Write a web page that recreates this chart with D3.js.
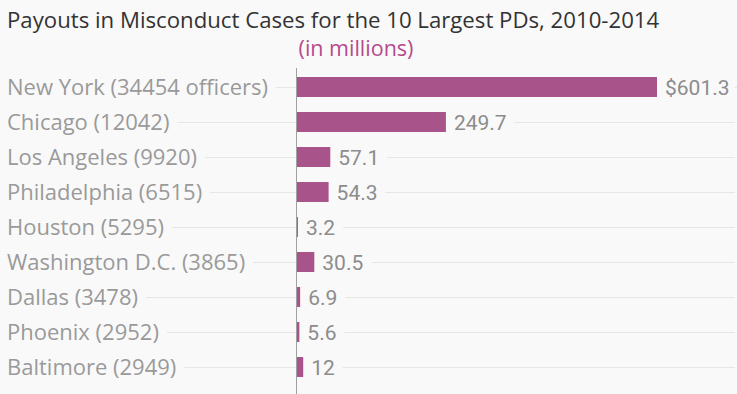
<!DOCTYPE html>
<html>
<head>
<meta charset="utf-8">
<script src="https://cdn.jsdelivr.net/npm/d3@7"></script>
<style>
  html, body { margin: 0; padding: 0; background: #f9f9f9; }
  svg { display: block; }
</style>
</head>
<body>
<svg id="chart" width="737" height="394"></svg>
<script>
const categories = [
  "New York (34454 officers)",
  "Chicago (12042)",
  "Los Angeles (9920)",
  "Philadelphia (6515)",
  "Houston (5295)",
  "Washington D.C. (3865)",
  "Dallas (3478)",
  "Phoenix (2952)",
  "Baltimore (2949)"
];
const payouts = [601.3, 249.7, 57.1, 54.3, 3.2, 30.5, 6.9, 5.6, 12];
const valueLabels = ["$601.3", "249.7", "57.1", "54.3", "3.2", "30.5", "6.9", "5.6", "12"];

const titleText = "Payouts in Misconduct Cases for the 10 Largest PDs, 2010-2014";
const subtitleText = "(in millions)";

const W = 737, H = 394;
const svg = d3.select("#chart");
svg.append("rect").attr("width", W).attr("height", H).attr("fill", "#f9f9f9");

const x0 = 296;
const x = d3.scaleLinear().domain([0, 601.3]).range([x0, 657]);
const y = d3.scaleBand().domain(categories).range([69.5, 384.5]).paddingInner(0.43).paddingOuter(0.215);

svg.append("text")
  .attr("x", 7).attr("y", 28)
  .attr("font-family", "Open Sans, sans-serif")
  .attr("font-size", 22.2)
  .attr("fill", "#333")
  .text(titleText);

svg.append("text")
  .attr("x", 356).attr("y", 56)
  .attr("text-anchor", "middle")
  .attr("font-family", "Open Sans, sans-serif")
  .attr("font-size", 21.5)
  .attr("fill", "#b5498c")
  .text(subtitleText);

const rows = svg.append("g");

// category labels
const labels = rows.selectAll("text.cat").data(categories).join("text")
  .attr("class", "cat")
  .attr("x", 7)
  .attr("y", d => y(d) + y.bandwidth() / 2)
  .attr("dy", "0.36em")
  .attr("font-family", "Open Sans, sans-serif")
  .attr("font-size", 22)
  .attr("fill", "#9a9a9a")
  .text(d => d);

// gridlines (after label ends)
const labelEnds = [];
labels.each(function () { labelEnds.push(7 + this.getComputedTextLength()); });

const grid = svg.insert("g", "g");
grid.selectAll("line.l").data(categories).join("line")
  .attr("x1", (d, i) => labelEnds[i] + 8)
  .attr("x2", x0)
  .attr("y1", d => Math.round(y(d) + y.bandwidth() / 2) + 0.5)
  .attr("y2", d => Math.round(y(d) + y.bandwidth() / 2) + 0.5)
  .attr("stroke", "#e6e6e6").attr("stroke-width", 1);

// bars
rows.selectAll("rect.bar").data(payouts).join("rect")
  .attr("class", "bar")
  .attr("x", x0)
  .attr("y", (d, i) => y(categories[i]))
  .attr("width", d => x(d) - x0)
  .attr("height", y.bandwidth())
  .attr("fill", "#a8538a");

// value labels
const vals = rows.selectAll("text.val").data(payouts).join("text")
  .attr("class", "val")
  .attr("x", d => x(d) + 8)
  .attr("y", (d, i) => y(categories[i]) + y.bandwidth() / 2)
  .attr("dy", "0.36em")
  .attr("font-family", "Roboto, sans-serif")
  .attr("font-size", 21)
  .attr("fill", "#8c8c8c")
  .text((d, i) => valueLabels[i]);

const valEnds = [];
vals.each(function (d) { valEnds.push(x(d) + 8 + this.getComputedTextLength()); });
grid.selectAll("line.r").data(categories).join("line")
  .attr("x1", (d, i) => valEnds[i] + 8)
  .attr("x2", 735)
  .attr("y1", d => Math.round(y(d) + y.bandwidth() / 2) + 0.5)
  .attr("y2", d => Math.round(y(d) + y.bandwidth() / 2) + 0.5)
  .attr("stroke", "#e6e6e6").attr("stroke-width", 1);

// axis line
svg.append("line")
  .attr("x1", x0 + 0.5).attr("x2", x0 + 0.5)
  .attr("y1", 68).attr("y2", 394)
  .attr("stroke", "#a0a0a0").attr("stroke-width", 1);
</script>
</body>
</html>
